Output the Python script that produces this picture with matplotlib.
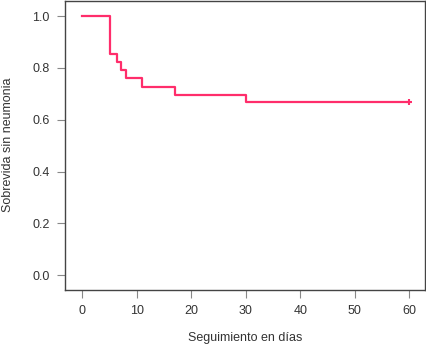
import matplotlib
matplotlib.use("Agg")
import matplotlib.pyplot as plt

plt.rcParams['font.family'] = ['Liberation Sans', 'DejaVu Sans']

# Kaplan-Meier step data
times = [0, 5, 6.4, 7, 8, 11, 17, 30, 60]
surv = [1.0, 0.852, 0.821, 0.790, 0.762, 0.728, 0.697, 0.667, 0.667]
censor_times = [60]
censor_surv = [0.667]
xticks = [0, 10, 20, 30, 40, 50, 60]
yticks = [0.0, 0.2, 0.4, 0.6, 0.8, 1.0]

fig = plt.figure(figsize=(4.27, 3.45), dpi=100)
ax = fig.add_axes([65/427, 1 - 289.5/345, 360/427, 288.5/345])

color = '#FF2D6B'
ax.step(times, surv, where='post', color=color, lw=1.6)
ax.plot(censor_times, censor_surv, marker='+', color=color, ms=5, mew=1.5, ls='none')

ax.set_xlim(-3.2, 62.9)
ax.set_ylim(-0.055, 1.058)
ax.set_xticks(xticks)
ax.set_xticklabels([str(t) for t in xticks])
ax.set_yticks(yticks)
ax.set_yticklabels([f"{t:.1f}" for t in yticks])

for s in ax.spines.values():
    s.set_color('#444444')
    s.set_linewidth(1.0)
ax.tick_params(direction='out', length=6, width=0.8, color='#888888',
               labelsize=9, labelcolor='#333333', pad=5)

ax.set_xlabel('Seguimiento en días', fontsize=9, color='#333333', labelpad=11)
ax.set_ylabel('Sobrevida sin neumonia', fontsize=9, color='#333333', labelpad=13)

fig.savefig('out.png', dpi=100)
